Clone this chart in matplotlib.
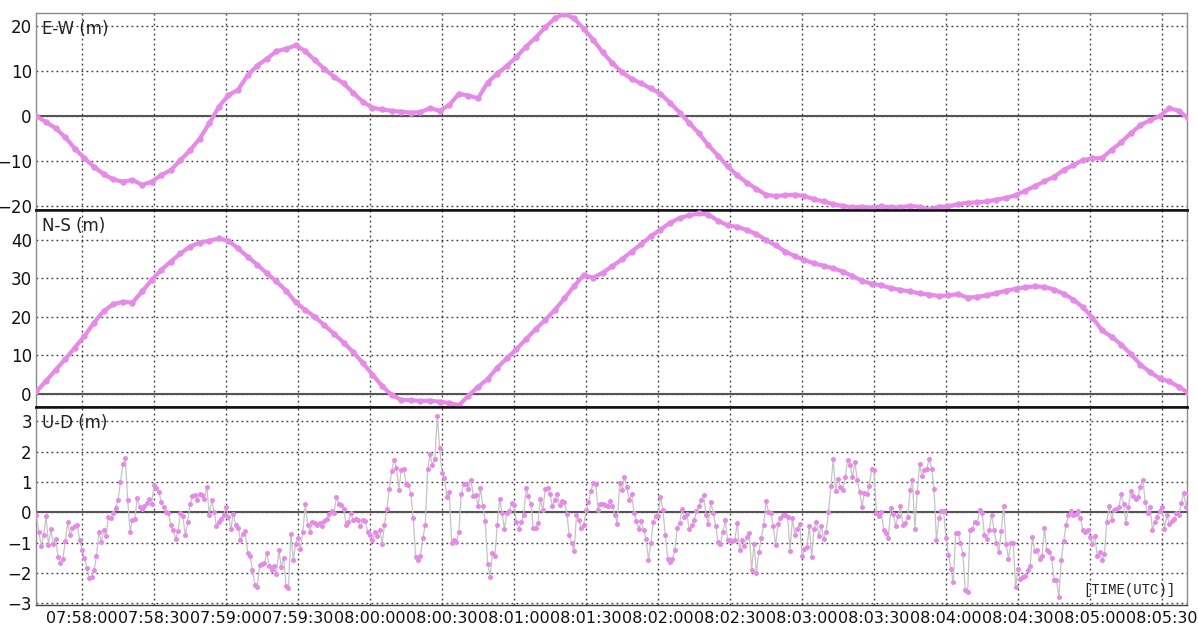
import numpy as np
import matplotlib
matplotlib.use("Agg")
import matplotlib.pyplot as plt

# ---------------- data ----------------
base_time = "07:57:40"
time_labels = ["07:58:00", "07:58:30", "07:59:00", "07:59:30", "08:00:00",
               "08:00:30", "08:01:00", "08:01:30", "08:02:00", "08:02:30",
               "08:03:00", "08:03:30", "08:04:00", "08:04:30", "08:05:00",
               "08:05:30"]

panel_titles = ["E-W (m)", "N-S (m)", "U-D (m)"]
ew_ticks = [-20, -10, 0, 10, 20]
ns_ticks = [0, 10, 20, 30, 40]
ud_ticks = [-3, -2, -1, 0, 1, 2, 3]

# E-W and N-S sampled every 4 s starting at 07:57:41
ew_vals = [0, -1.3, -2.7, -4.7, -7.2, -9.4, -11.3, -12.9, -14.1, -14.6,
           -14.2, -15.3, -14.6, -13.1, -12.0, -9.8, -7.6, -5.0, -1.6, 2.1,
           4.7, 5.9, 9.1, 11.3, 12.8, 14.5, 15.0, 15.8, 14.5, 12.5,
           10.5, 8.8, 7.3, 5.2, 3.2, 1.9, 1.5, 1.2, 1.0, 0.8,
           0.9, 1.8, 1.2, 2.5, 5.0, 4.6, 4.0, 7.5, 9.5, 11.2,
           13.2, 15.5, 17.5, 19.8, 21.8, 22.8, 21.8, 19.5, 17.0, 14.2,
           11.8, 9.8, 8.3, 7.3, 6.2, 5.0, 3.0, 0.8, -1.5, -3.8,
           -6.5, -8.8, -11.2, -13.2, -14.8, -16.2, -17.5, -17.8, -17.6, -17.5,
           -17.8, -18.5, -19.0, -19.6, -20.0, -20.3, -20.2, -20.4, -20.1, -20.3,
           -20.3, -20.0, -20.2, -20.8, -20.2, -20.1, -19.6, -19.3, -19.2, -19.0,
           -18.6, -18.2, -17.6, -16.6, -15.6, -14.5, -13.5, -12.0, -10.9, -9.8,
           -9.4, -9.3, -7.5, -5.8, -3.8, -2.0, -0.9, 0.0, 1.8, 1.2,
           -0.5]

ns_vals = [0.6, 3.3, 6.2, 9.0, 12.0, 15.0, 18.5, 21.5, 23.3, 23.9,
           23.7, 26.6, 29.6, 32.2, 34.4, 36.5, 38.3, 39.3, 39.8, 40.4,
           39.8, 37.8, 35.6, 33.6, 31.3, 29.2, 26.8, 23.8, 21.8, 20.0,
           17.8, 15.6, 13.3, 10.8, 8.0, 5.0, 2.0, -0.3, -1.6, -1.7,
           -1.9, -1.8, -2.1, -2.4, -3.0, -0.5, 1.8, 3.8, 6.8, 9.2,
           11.6, 14.2, 16.8, 19.2, 21.8, 24.8, 28.0, 30.8, 30.2, 31.5,
           33.2, 35.0, 37.0, 38.9, 41.0, 42.7, 44.5, 45.7, 46.4, 46.9,
           46.6, 45.0, 43.8, 43.4, 42.6, 41.5, 40.0, 38.6, 37.0, 35.8,
           34.8, 33.9, 33.3, 32.6, 31.8, 30.6, 29.4, 28.6, 28.2, 27.5,
           27.0, 26.6, 26.1, 25.8, 25.4, 25.6, 25.9, 25.0, 25.2, 25.6,
           26.2, 26.8, 27.3, 27.7, 27.9, 27.8, 27.1, 26.0, 24.5, 22.5,
           19.8, 16.5, 14.8, 12.8, 10.3, 7.6, 5.6, 4.0, 3.2, 1.8,
           0.2]

# U-D sampled every 1 s starting at 07:57:41
ud_vals = [-0.1, -0.65, -1.12, -0.74, -0.13, -1.09, -0.56, -1.05, -0.87, -1.47,
           -1.67, -1.53, -0.95, -0.33, -0.76, -0.5, -0.45, -0.42, -0.92, -1.25,
           -1.5, -1.83, -2.15, -2.13, -1.89, -1.45, -0.66, -0.96, -0.59, -0.79,
           -0.15, -0.2, -0.02, 0.15, 0.42, 1.0, 1.58, 1.8, 0.4, -0.65,
           -0.24, -0.21, 0.48, 0.18, 0.11, 0.21, 0.32, 0.45, 0.29, 0.89,
           0.8, 0.67, 0.35, 0.18, 0.01, -0.02, -0.43, -0.59, -0.87, -0.62,
           -0.02, -0.13, -0.76, -0.32, 0.26, 0.53, 0.56, 0.42, 0.62, 0.56,
           0.45, 0.84, -0.1, 0.42, 0.01, -0.44, -0.33, -0.23, -0.07, 0.18,
           -0.15, -0.56, -0.04, -0.4, -0.5, -0.92, -0.7, -0.62, -1.34, -1.42,
           -1.91, -2.38, -2.46, -1.74, -1.71, -1.67, -1.34, -1.78, -1.91, -1.78,
           -2.02, -1.25, -1.8, -1.49, -2.43, -2.48, -0.7, -1.56, -1.03, -0.84,
           -1.2, -0.63, 0.26, -0.41, -0.64, -0.32, -0.35, -0.4, -0.35, -0.46,
           -0.29, -0.21, -0.04, 0.03, -0.01, 0.51, 0.29, 0.23, 0.12, -0.4,
           -0.32, -0.02, -0.26, -0.23, -0.24, -0.46, -0.26, -0.29, -0.65, -0.74,
           -0.92, -0.66, -0.79, -0.57, -1.05, -0.41, 0.12, 0.78, 1.36, 1.74,
           1.47, 0.75, 1.41, 1.44, 0.95, 0.89, 0.62, -0.19, -1.47, -1.56,
           -1.42, -0.85, -0.41, 1.42, 1.91, 1.55, 1.75, 3.16, 2.12, 1.3,
           1.14, 0.51, 0.66, -1.01, -0.92, -0.96, -0.65, 0.59, 0.95, 0.92,
           0.78, 1.08, 0.53, 0.56, 0.2, 0.8, 0.2, -0.29, -1.69, -2.13,
           -1.34, -1.45, -0.4, 0.44, -0.02, -0.54, -0.02, 0.04, 0.31, 0.25,
           -0.32, -0.54, -0.32, -0.08, 0.8, 0.53, 0.26, -0.5, -0.52, -0.35,
           0.45, 0.07, 0.78, 0.8, 0.59, 0.2, 0.42, 0.59, 0.23, 0.37,
           0.34, -0.04, -0.76, -1.01, -1.27, -0.1, -0.26, -0.51, -0.43, 0.07,
           0.34, 0.7, 0.97, 0.95, 0.07, 0.29, 0.26, 0.23, 0.22, 0.37,
           0.2, -0.07, -0.37, 0.97, 0.73, 1.16, 0.84, 0.42, 0.62, -0.02,
           -0.29, -0.54, -0.29, -0.59, -0.87, -1.56, -1.01, -0.32, -0.13, -0.13,
           0.51, 0.09, -0.73, -1.53, -1.64, -1.53, -1.25, -0.51, -0.35, 0.12,
           -0.15, -0.04, -0.56, -0.43, -0.26, 0.04, 0.2, 0.42, 0.56, -0.1,
           -0.37, 0.34, -0.02, -0.45, -0.98, -1.03, -0.65, -0.26, -0.9, -0.92,
           -0.95, -0.9, -0.34, -1.23, -0.9, -1.12, -0.81, -0.68, -1.89, -1.03,
           -2.0, -1.31, -0.84, -0.43, 0.37, 0.01, -0.02, -0.46, -1.09, -0.37,
           -0.18, -0.07, -0.1, -0.15, -1.27, -0.19, -0.76, -0.54, -0.37, -1.45,
           -1.2, -1.14, -0.46, -1.47, -0.54, -0.32, -0.79, -0.45, -0.87, -0.65,
           0.0, 0.86, 1.77, 0.69, 1.11, 0.84, 0.73, 1.16, 1.74, 1.57,
           1.16, 1.65, 1.08, 0.67, 0.18, 0.64, 0.59, 0.86, 1.43, 1.38,
           -0.02, -0.12, 0.01, -0.57, -0.68, -0.84, 0.15, -0.04, -0.45, -0.11,
           0.21, -0.4, -0.35, -0.15, 0.73, 1.05, -0.54, 0.67, 1.58, 1.19,
           1.38, 1.44, 1.76, 1.44, 0.78, -0.92, -0.18, 0.03, 0.03, -0.84,
           -1.4, -1.86, -2.3, -0.68, -0.68, -1.01, -1.36, -2.57, -2.63, -0.57,
           -0.54, -0.32, -0.35, 0.07, -0.02, -0.74, -0.87, -0.59, -0.07, -0.59,
           -1.0, -1.31, -0.62, 0.22, -1.03, -1.53, -1.01, -1.0, -2.46, -1.86,
           -2.19, -2.13, -2.08, -1.89, -1.78, -0.81, -1.27, -1.23, -1.53, -1.45,
           -0.5, -1.25, -1.31, -1.49, -2.22, -2.22, -2.79, -1.56, -0.95, -0.43,
           -0.1, 0.04, -0.07, -0.04, 0.03, -0.18, -0.59, -0.65, -0.59, -0.81,
           -1.03, -0.79, -1.45, -1.31, -1.58, -1.36, -0.32, 0.22, -0.24, 0.07,
           0.12, 0.18, 0.59, 0.29, -0.35, 0.18, 0.7, 0.53, 0.45, 0.51,
           0.84, 1.08, 0.34, -0.02, 0.18, -0.57, -0.32, -0.15, 0.04, 0.18,
           -0.54, -0.1, -0.37, -0.29, -0.21, -0.02, -0.1, 0.31, 0.64, 0.18,
           0.64]


def to_sec(s):
    h, m, x = (int(v) for v in s.split(":"))
    return h * 3600 + m * 60 + x


t0 = to_sec(base_time)
tick_pos = [to_sec(s) - t0 for s in time_labels]
t_en = 1 + 4 * np.arange(len(ew_vals))
t_ns = 1 + 4 * np.arange(len(ns_vals))
t_ud = 1 + np.arange(len(ud_vals))

# ---------------- figure ----------------
W, H = 1198, 628
fig = plt.figure(figsize=(W / 100, H / 100), dpi=100)
fig.patch.set_facecolor("white")

L, R = 36 / W, 1187 / W
rows = [(13, 210), (210, 407), (407, 605)]
violet = "#E68AE8"
grid_kw = dict(color="#3a3a3a", linestyle=(0, (1.3, 2.3)), linewidth=1.0)

axes = []
for (top, bot) in rows:
    ax = fig.add_axes([L, 1 - bot / H, R - L, (bot - top) / H])
    axes.append(ax)

ylims = [(-20.9, 23.0), (-3.45, 47.8), (-3.05, 3.47)]
yticks = [ew_ticks, ns_ticks, ud_ticks]

for i, ax in enumerate(axes):
    ax.set_xlim(0.8, 480.4)
    ax.set_ylim(*ylims[i])
    ax.set_xticks(tick_pos)
    ax.set_yticks(yticks[i])
    ax.set_axisbelow(True)
    ax.grid(True, **grid_kw)
    ax.axhline(0, color="#555555", lw=1.5, zorder=1.5)
    ax.tick_params(axis="both", length=0, labelsize=12, pad=3, colors="#111111")
    for s in ax.spines.values():
        s.set_color("#8a8a8a")
        s.set_linewidth(1.0)
    ax.text(0.005, 0.92, panel_titles[i], transform=ax.transAxes,
            fontsize=12, color="#222222", ha="left", va="center", zorder=5)

axes[0].spines["bottom"].set_color("#111111")
axes[0].spines["bottom"].set_linewidth(1.8)
axes[1].spines["top"].set_color("#111111")
axes[1].spines["top"].set_linewidth(1.8)
axes[1].spines["bottom"].set_color("#111111")
axes[1].spines["bottom"].set_linewidth(1.8)
axes[2].spines["top"].set_color("#111111")
axes[2].spines["top"].set_linewidth(1.8)
axes[2].spines["bottom"].set_color("#444444")

axes[0].tick_params(labelbottom=False)
axes[1].tick_params(labelbottom=False)
axes[2].set_xticklabels(time_labels, fontsize=11.5)
axes[2].tick_params(axis="x", pad=4)

# E-W and N-S: dense dots forming a thick band
for ax, t, v in ((axes[0], t_en, ew_vals), (axes[1], t_ns, ns_vals)):
    ax.plot(t, v, "-", color=violet, lw=3.0, solid_capstyle="round", zorder=3)
    ax.plot(t, v, "o", color=violet, ms=4.6, mec="none", zorder=3)

# U-D: dots linked by thin grey line
axes[2].plot(t_ud, ud_vals, "-", color="#c4c4c4", lw=0.9, zorder=3)
axes[2].plot(t_ud, ud_vals, "o", color=violet, ms=3.6, mec="none", zorder=4)

axes[2].text(0.9896, 0.076, "[TIME(UTC)]", transform=axes[2].transAxes,
             fontsize=10, family="Liberation Mono", color="#222222",
             ha="right", va="center", zorder=5)

fig.savefig("out.png", dpi=100, facecolor="white")
